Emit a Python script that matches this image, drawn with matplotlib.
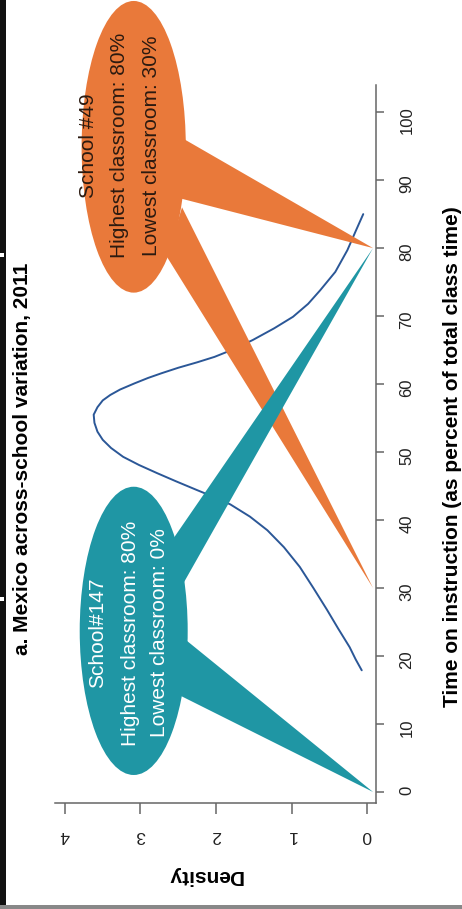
import matplotlib
matplotlib.use('Agg')
import matplotlib.pyplot as plt
from matplotlib.patches import Ellipse, Polygon, Rectangle

plt.rcParams['font.family'] = ['Liberation Sans', 'DejaVu Sans']

W, H = 462, 909

# density of time on instruction across schools (x: percent of class time)
time_pct = [17.9, 19.5, 21.3, 24.0, 26.8, 30.0, 33.1, 36.0, 38.5, 40.5, 42.3,
            43.4, 44.4, 45.7, 46.9, 48.1, 49.3, 50.6, 51.8, 53.0, 54.3, 55.5,
            56.6, 57.6, 58.4, 59.2, 60.1, 60.9, 61.6, 62.4, 63.2, 64.0, 65.2,
            66.5, 68.2, 69.9, 71.8, 73.8, 76.5, 79.7, 82.5, 85.0]
density = [0.07, 0.15, 0.23, 0.38, 0.53, 0.71, 0.89, 1.10, 1.32, 1.55, 1.81,
           2.03, 2.25, 2.53, 2.78, 3.02, 3.23, 3.39, 3.50, 3.57, 3.61, 3.62,
           3.57, 3.50, 3.40, 3.27, 3.08, 2.90, 2.72, 2.50, 2.25, 2.02, 1.75,
           1.51, 1.23, 0.98, 0.78, 0.62, 0.42, 0.26, 0.15, 0.05]

# the two highlighted schools
school_names = ['School #49', 'School#147']
highest = [80, 80]
lowest = [30, 0]
school_colors = ['#e9793a', '#1f96a4']
text_colors = ['#2b1a10', 'white']

# callout bubbles (density, time units)
bubble_center = [(3.09, 94.9), (3.09, 23.7)]
bubble_size = [(1.38, 42.9), (1.43, 42.4)]
# base chords of the pointers: [to highest, to lowest]
pointer_base = [
    [[(2.450, 96.2), (2.503, 87.4)], [(2.450, 86.0), (2.649, 78.7)]],
    [[(2.576, 37.1), (2.437, 30.6)], [(2.426, 22.6), (2.532, 14.5)]],
]
text_d = [[3.695, 3.272, 2.848], [3.563, 3.139, 2.742]]
text_t = [95.1, 23.4]
TIP_D = -0.08

time_ticks = list(range(0, 101, 10))
dens_ticks = [0, 1, 2, 3, 4]

fig = plt.figure(figsize=(W / 100, H / 100), dpi=100)

# axes placed in pixels, rotated chart: x = density (reversed), y = time
x0, x1, y0, y1 = 40, 376, 2, 803
ax = fig.add_axes([x0 / W, 1 - y1 / H, (x1 - x0) / W, (y1 - y0) / H])
ax.set_xlim(4.331, -0.119)
ax.set_ylim(-1.62, 116.2)
ax.patch.set_alpha(0)

for s in ['top', 'left']:
    ax.spines[s].set_visible(False)
for s in ['right', 'bottom']:
    ax.spines[s].set_color('#666666')
    ax.spines[s].set_linewidth(1.1)
ax.spines['right'].set_bounds(-1.62, 104.0)
ax.spines['bottom'].set_bounds(-0.119, 4.13)

ax.yaxis.tick_right()
ax.set_yticks(time_ticks)
ax.set_yticklabels([str(t) for t in time_ticks])
ax.tick_params(axis='y', direction='out', length=6, width=1.1, color='#666666',
               labelsize=12, labelrotation=90, pad=11, labelcolor='#222222')
ax.set_xticks(dens_ticks)
ax.set_xticklabels([str(d) for d in dens_ticks])
ax.tick_params(axis='x', direction='out', length=8, width=1.1, color='#666666',
               labelsize=12.5, labelrotation=180, pad=10, labelcolor='#222222')

ax.plot(density, time_pct, color='#2b5797', lw=1.4, zorder=2,
        solid_joinstyle='round', solid_capstyle='round')

for i in range(len(school_names)):
    c = school_colors[i]
    tips = [highest[i], lowest[i]]
    for j in range(2):
        pts = pointer_base[i][j] + [(TIP_D, tips[j])]
        ax.add_patch(Polygon(pts, closed=True, facecolor=c, edgecolor='none',
                             zorder=3 + i, clip_on=False))
    ax.add_patch(Ellipse(bubble_center[i], bubble_size[i][0], bubble_size[i][1],
                         facecolor=c, edgecolor='none', zorder=3 + i, clip_on=False))
    lines = [school_names[i], 'Highest classroom: %d%%' % highest[i],
             'Lowest classroom: %d%%' % lowest[i]]
    for k in range(3):
        ax.text(text_d[i][k], text_t[i], lines[k], rotation=90, ha='center',
                va='center', fontsize=15, color=text_colors[i], zorder=6)

# axis titles and heading, rotated with the chart
fig.text(23 / W, 1 - 459 / H, 'a. Mexico across-school variation, 2011',
         rotation=90, ha='center', va='center', fontsize=15, weight='bold')
fig.text(453 / W, 1 - 457 / H, 'Time on instruction (as percent of total class time)',
         rotation=90, ha='center', va='center', fontsize=15, weight='bold')
fig.text(205 / W, 1 - 876 / H, 'Density', rotation=180, ha='center',
         va='center', fontsize=15, weight='bold')

# frame remains from the page
fig.patches.append(Rectangle((0, 4 / H), 6 / W, 1 - 4 / H, transform=fig.transFigure,
                             facecolor='#111111', edgecolor='none'))
for yy in [255, 599]:
    fig.patches.append(Rectangle((0, 1 - (yy + 2) / H), 4 / W, 4 / H,
                                 transform=fig.transFigure, facecolor='white',
                                 edgecolor='none'))
fig.patches.append(Rectangle((0, 0), 1, 4 / H, transform=fig.transFigure,
                             facecolor='#888888', edgecolor='none'))

fig.savefig('out.png', dpi=100)
